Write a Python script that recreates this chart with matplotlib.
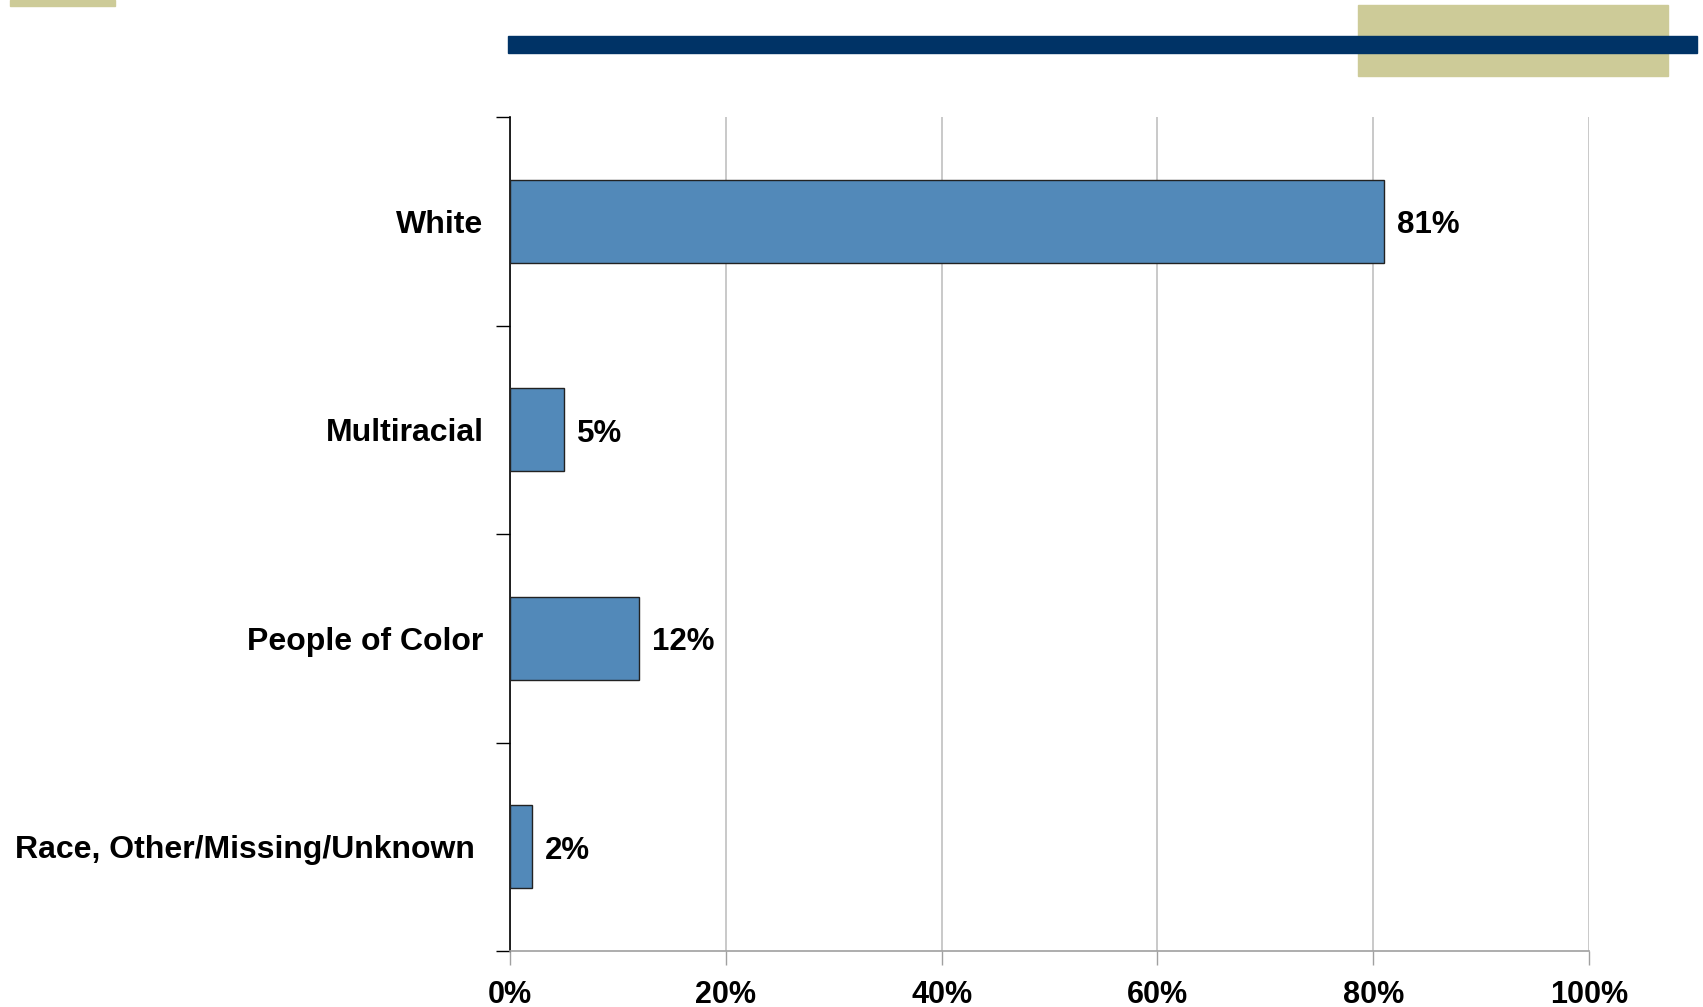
import matplotlib.pyplot as plt
from matplotlib.patches import Rectangle
from matplotlib.ticker import FuncFormatter, FixedLocator
from matplotlib.transforms import ScaledTranslation

categories = ["White", "Multiracial", "People of Color", "Race, Other/Missing/Unknown"]
shares = [81, 5, 12, 2]
xticks = [0, 20, 40, 60, 80, 100]

plt.rcParams['font.family'] = ['Liberation Sans', 'DejaVu Sans']

W, H = 1703, 1007
fig = plt.figure(figsize=(W / 100, H / 100), dpi=100)

# header strips
def strip(x0, y0, x1, y1, color):
    fig.patches.append(Rectangle((x0 / W, 1 - y1 / H), (x1 - x0) / W, (y1 - y0) / H,
                                 transform=fig.transFigure, color=color, zorder=0))

strip(10, 0, 115, 6, '#CDCB98')
strip(1358, 5, 1668, 76, '#CDCB98')
strip(508, 36, 1697, 53, '#003366')

ax = fig.add_axes([510 / W, 56 / H, 1079 / W, 834 / H])

ypos = list(range(len(categories)))
ax.barh(ypos, shares, height=0.4, color='#5289B9', edgecolor='#222222', linewidth=1.0, zorder=3)
for y, v in zip(ypos, shares):
    ax.text(v + 1.2, y + 0.02, f"{v}%", va='center', ha='left', fontsize=22.5, fontweight='bold')

ax.set_xlim(0, 100)
ax.set_ylim(len(categories) - 0.5, -0.5)
ax.xaxis.set_major_locator(FixedLocator(xticks))
ax.xaxis.set_major_formatter(FuncFormatter(lambda v, p: f"{v:.0f}%"))
ax.grid(axis='x', color='#C0C0C0', linewidth=1.2, zorder=0)

# y ticks sit on the category boundaries, labels centred on the bars
ax.set_yticks([i - 0.5 for i in range(len(categories) + 1)])
ax.set_yticklabels([])
ax.set_yticks(ypos, minor=True)
ax.set_yticklabels(categories, minor=True, fontsize=23, fontweight='bold')
ax.tick_params(axis='y', which='major', length=10, width=1, color='black', direction='out')
ax.tick_params(axis='y', which='minor', length=0, pad=19)
ax.tick_params(axis='x', length=10, width=1, color='#A0A0A0', pad=11, labelsize=22)
for lbl in ax.get_xticklabels():
    lbl.set_fontweight('bold')

# the long last label sits a little further left
last = ax.get_yticklabels(minor=True)[-1]
last.set_transform(last.get_transform() + ScaledTranslation(-0.09, 0, fig.dpi_scale_trans))

for s in ['top', 'right']:
    ax.spines[s].set_visible(False)
ax.spines['left'].set_color('black')
ax.spines['left'].set_linewidth(1.2)
ax.spines['bottom'].set_color('#A0A0A0')
ax.spines['bottom'].set_linewidth(1.2)

fig.savefig('out.png', dpi=100)
